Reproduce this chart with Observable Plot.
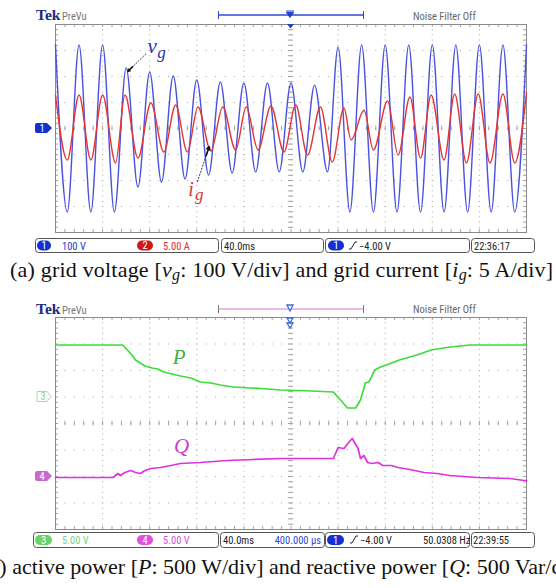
<!DOCTYPE html>
<html><head><meta charset="utf-8">
<script src="https://cdn.jsdelivr.net/npm/d3@7"></script>
<script src="https://cdn.jsdelivr.net/npm/@observablehq/plot@0.6"></script>
<style>
html,body{margin:0;padding:0;background:#fff;}
body{width:556px;height:588px;overflow:hidden;position:relative;}
#p1,#p2,#ov{position:absolute;left:0;}
#p1{top:0;} #p2{top:300px;} #ov{top:0;pointer-events:none;}
.ui{font-family:"Liberation Sans Narrow","Roboto Condensed","Liberation Sans",sans-serif;font-size:10.5px;}
.cap{font-family:"Liberation Serif","Times New Roman",serif;font-size:22px;}
</style></head><body>
<div id="p1"></div><div id="p2"></div>
<svg id="ov" width="556" height="588" xmlns="http://www.w3.org/2000/svg">
  <!-- panel (a) header -->
  <text x="36" y="20" font-family="Liberation Serif,serif" font-weight="bold" font-size="15.5" fill="#1c2a86">Tek</text>
  <text x="62" y="20" class="ui" font-size="9" fill="#777">PreVu</text>
  <line x1="218" y1="15" x2="364" y2="15" stroke="#3048d8" stroke-width="1.5"/>
  <line x1="218.5" y1="11" x2="218.5" y2="19" stroke="#3048d8"/>
  <line x1="363.5" y1="11" x2="363.5" y2="19" stroke="#3048d8"/>
  <path d="M286,11 h8 M286.5,12.5 h7 l-3.5,5 z" fill="#2040d0" stroke="#2040d0" stroke-width="1"/>
  <path d="M287,24 h7 l-3.5,4.5 z" fill="#2040d0"/>
  <text x="413" y="20" class="ui" font-size="9" fill="#666">Noise Filter Off</text>
  <!-- ch1 marker -->
  <path d="M37,123 h10 l5,5 l-5,5 h-10 a2,2 0 0 1 -2,-2 v-6 a2,2 0 0 1 2,-2 z" fill="#1530d0"/>
  <text x="42" y="131.5" class="ui" font-size="9" fill="#fff" text-anchor="middle">1</text>
  <!-- status bar (a) -->
  <g fill="none" stroke="#555" stroke-width="1">
    <rect x="35.5" y="238.5" width="183" height="14" rx="3"/>
    <rect x="221.5" y="238.5" width="102" height="14" rx="3"/>
    <rect x="325.5" y="238.5" width="144" height="14" rx="3"/>
    <rect x="471.5" y="238.5" width="63" height="14" rx="3"/>
  </g>
  <rect x="37" y="240.5" width="14" height="10" rx="5" fill="#1530d0"/>
  <text x="44" y="249" class="ui" font-size="9" fill="#fff" text-anchor="middle">1</text>
  <text x="62" y="249.5" class="ui" fill="#2040d0">100 V</text>
  <rect x="137" y="240.5" width="16" height="10" rx="5" fill="#d01818"/>
  <text x="145" y="249" class="ui" font-size="9" fill="#fff" text-anchor="middle">2</text>
  <text x="163" y="249.5" class="ui" fill="#e03030">5.00 A</text>
  <text x="224" y="249.5" class="ui" fill="#222">40.0ms</text>
  <rect x="328" y="240.5" width="16" height="10" rx="5" fill="#1530d0"/>
  <text x="336" y="249" class="ui" font-size="9" fill="#fff" text-anchor="middle">1</text>
  <path d="M349,249 h2 l4,-7 h2" fill="none" stroke="#222" stroke-width="1"/>
  <text x="359" y="249.5" class="ui" fill="#222">−4.00 V</text>
  <text x="474" y="249.5" class="ui" fill="#222">22:36:17</text>
  <!-- caption (a) -->
  <text x="10" y="277" class="cap" fill="#111" textLength="543" lengthAdjust="spacing">(a) grid voltage [<tspan font-style="italic">v</tspan><tspan font-style="italic" font-size="16" dy="3">g</tspan><tspan dy="-3">: 100 V/div] and grid current [</tspan><tspan font-style="italic">i</tspan><tspan font-style="italic" font-size="16" dy="3">g</tspan><tspan dy="-3">: 5 A/div]</tspan></text>

  <!-- panel (b) header -->
  <text x="36" y="314" font-family="Liberation Serif,serif" font-weight="bold" font-size="15.5" fill="#1c2a86">Tek</text>
  <text x="62" y="314" class="ui" font-size="9" fill="#777">PreVu</text>
  <line x1="218" y1="309" x2="364" y2="309" stroke="#e8a0e0" stroke-width="1.5"/>
  <line x1="218.5" y1="305" x2="218.5" y2="313" stroke="#777"/>
  <line x1="363.5" y1="305" x2="363.5" y2="313" stroke="#777"/>
  <path d="M287,305 h6 l-3,6 z" fill="#fff" stroke="#3a6ad8" stroke-width="1.3"/>
  <path d="M287,318 h6 l-3,5 z M287,323 h6 l-3,5 z" fill="#fff" stroke="#3a6ad8" stroke-width="1.3"/>
  <text x="413" y="313" class="ui" font-size="9" fill="#666">Noise Filter Off</text>
  <!-- ch3 / ch4 markers -->
  <path d="M37,391.5 h10 l4,5 l-4,5 h-10 z" fill="#fff" stroke="#9be39b"/>
  <text x="43" y="400" class="ui" font-size="9" fill="#7fd67f" text-anchor="middle">3</text>
  <path d="M37,471 h10 l5,5 l-5,5 h-10 a2,2 0 0 1 -2,-2 v-6 a2,2 0 0 1 2,-2 z" fill="#c86ac8"/>
  <text x="42" y="479.5" class="ui" font-size="9" fill="#fff" text-anchor="middle">4</text>
  <!-- status bar (b) -->
  <g fill="none" stroke="#555" stroke-width="1">
    <rect x="33.5" y="532.5" width="185" height="15" rx="3"/>
    <rect x="220.5" y="532.5" width="104" height="15" rx="3"/>
    <rect x="325.5" y="532.5" width="144" height="15" rx="3"/>
    <rect x="471.5" y="532.5" width="63" height="15" rx="3"/>
  </g>
  <rect x="35" y="535" width="17" height="10" rx="5" fill="#66d466"/>
  <text x="43.5" y="543.5" class="ui" font-size="9" fill="#fff" text-anchor="middle">3</text>
  <text x="62" y="544" class="ui" fill="#7ad27a">5.00 V</text>
  <rect x="137" y="535" width="16" height="10" rx="5" fill="#e050e0"/>
  <text x="145" y="543.5" class="ui" font-size="9" fill="#fff" text-anchor="middle">4</text>
  <text x="163" y="544" class="ui" fill="#d850d8">5.00 V</text>
  <text x="223" y="544" class="ui" fill="#222">40.0ms</text>
  <text x="321" y="544" class="ui" fill="#2a4ad0" text-anchor="end">400.000 µs</text>
  <rect x="327" y="535" width="17" height="10" rx="5" fill="#1530d0"/>
  <text x="335.5" y="543.5" class="ui" font-size="9" fill="#fff" text-anchor="middle">1</text>
  <path d="M350,543 h2 l4,-7 h2" fill="none" stroke="#222" stroke-width="1"/>
  <text x="360" y="544" class="ui" fill="#222">−4.00 V</text>
  <text x="423" y="544" class="ui" fill="#222">50.0308 Hz</text>
  <text x="473" y="544" class="ui" fill="#222">22:39:55</text>
  <!-- caption (b) -->
  <text x="-19" y="574" class="cap" fill="#111">(b) active power [<tspan font-style="italic">P</tspan>: 500 W/div] and reactive power [<tspan font-style="italic">Q</tspan>: 500 Var/div]</text>
</svg>
<script>
// ---------- (a) grid voltage: extrema, time in ms, voltage in V
const vgTime = [0,10,20,30,40,50,60,70,80,90,100,110,120,130,140,150,160,170,180,190,200,210,220,231,240,250,260,270,280,290,300,310,320,330,340,350,360,370,380,390,400];
const vgVolt = [321,-321,321,-321,321,-321,233,-225,217,-206,202,-194,187,-179,179,-171,175,-167,175,-167,175,-167,167,-167,313,-321,321,-321,321,-321,321,-321,321,-321,321,-321,321,-321,321,-321,321];
// ---------- (a) grid current: extrema, time in ms, current in A
const igTime = [0,10,20,30,40,51,59,70,81,92,102,112,121,132,142,153,162,172,183,194,204,214,225,235,245,251,262,270,282,291,301,310,319,330,339,349,359,369,380,390,400];
const igAmp = [6.44,-6.06,6.44,-6.06,6.44,-6.63,6.44,-5.67,4.90,-4.52,4.52,-4.52,4.13,-4.33,4.13,-4.13,4.13,-4.13,4.33,-4.52,4.52,-5.10,4.13,-6.44,3.94,-2.21,3.5,-4.13,5.3,-5.10,6.06,-5.67,6.44,-6.06,6.63,-6.63,6.63,-6.63,6.63,-6.63,6.83];
// ---------- (b) active power: time in ms, W
const pTime = [0,57,61,65,68,72,76,82,87,92,99,106,115,123,132,140,151,166,180,191,217,236,242,248,255,259,262,263,266,268,271,276,281,292,307,319,335,352,400];
const pWatt = [981,981,887,792,698,642,585,547,528,472,434,396,358,283,264,226,189,170,151,132,113,94,-57,-208,-208,-57,170,264,283,358,509,566,604,698,792,887,943,981,981];
// ---------- (b) reactive power: time in ms, Var
const qTime = [0,49,53,55,59,64,68,72,76,81,89,98,106,123,146,168,191,236,240,245,249,252,257,259,262,265,269,274,278,285,291,301,313,324,335,358,386,398,400];
const qVar = [-19,-19,57,19,75,113,75,57,113,151,170,208,245,264,302,321,340,340,547,528,642,717,528,340,396,264,245,264,208,208,170,132,75,57,19,-19,-38,-75,-75];

// scope scale settings (per division)
const voltPerDiv = 100, ampPerDiv = 5, wattPerDiv = 500, varPerDiv = 500;
const msPerDiv = 40;

// annotations (label text, time ms, divisions)
const labelsA = [
  {txt:"v", t:82, d:2.92, size:21, color:"#2830b0"},
  {txt:"g", t:90, d:2.72, size:17, color:"#2830b0"},
  {txt:"i", t:115, d:-2.58, size:20, color:"#d83838"},
  {txt:"g", t:122, d:-2.76, size:17, color:"#d83838"}
];
const arrowsA = [
  {t1:77, d1:2.88, t2:61.5, d2:2.2},
  {t1:120.5, d1:-2.05, t2:130.5, d2:-0.7}
];
const labelsB = [
  {txt:"P", t:105, d:2.26, color:"#44b044"},
  {txt:"Q", t:107, d:-1.1, color:"#cc3ccc"}
];

const vgData = vgTime.map((t,i)=>({t, v:vgVolt[i]}));
const igData = igTime.map((t,i)=>({t, a:igAmp[i]}));
const pData = pTime.map((t,i)=>({t, w:pWatt[i]}));
const qData = qTime.map((t,i)=>({t, q:qVar[i]}));

function graticule(divPx){
  const gc = "#a4a4a4";
  const span = msPerDiv*10;
  const subX = d3.range(0, span+0.001, msPerDiv/5);
  const subY = d3.range(-4, 4.001, 0.2);
  const tx = 3/divPx;
  const ty = 3*span/471;
  const vx = d3.range(1,10).map(i=>i*msPerDiv);
  return [
    Plot.ruleX(vx, {stroke:gc, strokeDasharray:`1,${divPx/5-1}`}),
    Plot.ruleY([-3,-2,-1,0,1,2,3], {stroke:gc, strokeDasharray:"1,8.42"}),
    Plot.ruleX(subX, {x:d=>d, y1:-0.09, y2:0.09, stroke:gc}),
    Plot.ruleY(subY, {y:d=>d, x1:span/2-2.2, x2:span/2+2.2, stroke:gc}),
    Plot.ruleX(subX, {x:d=>d, y1:4, y2:4-tx, stroke:gc}),
    Plot.ruleX(subX, {x:d=>d, y1:-4, y2:-4+tx, stroke:gc}),
    Plot.ruleY(subY, {y:d=>d, x1:0, x2:ty, stroke:gc}),
    Plot.ruleY(subY, {y:d=>d, x1:span-ty, x2:span, stroke:gc}),
    Plot.frame({stroke:"#8a8a8a"})
  ];
}
const base = (mt, mb) => ({
  width:556, height:240, marginLeft:55, marginRight:30, marginTop:mt, marginBottom:mb,
  x:{domain:[0,400], axis:null}, y:{domain:[-4,4], axis:null},
  style:{background:"transparent", overflow:"visible"}
});

const p1 = Plot.plot({
  ...base(24, 8),
  marks:[
    ...graticule(26),
    Plot.line(vgData, {x:"t", y:d=>d.v/voltPerDiv, curve:"monotone-x", stroke:"#4a52e0", strokeWidth:1.4}),
    Plot.line(igData, {x:"t", y:d=>d.a/ampPerDiv, curve:"monotone-x", stroke:"#e43434", strokeWidth:1.4}),
    Plot.link(arrowsA, {x1:"t1", y1:"d1", x2:"t2", y2:"d2", stroke:"#222", strokeWidth:0.9, strokeDasharray:"2,1.2"}),
    Plot.arrow(arrowsA, {x1:d=>d.t2+(d.t1-d.t2)*0.25, y1:d=>d.d2+(d.d1-d.d2)*0.25, x2:"t2", y2:"d2", stroke:"#111", strokeWidth:1.6, headLength:6}),
    Plot.text(labelsA, {x:"t", y:"d", text:"txt", fill:"color", fontSize:d=>d.size, fontFamily:"Liberation Serif", fontStyle:"italic", lineAnchor:"bottom"})
  ]
});
document.getElementById("p1").appendChild(p1);

const p2 = Plot.plot({
  ...base(17, 11),
  marks:[
    ...graticule(26.5),
    Plot.line(pData, {x:"t", y:d=>1 + d.w/wattPerDiv, stroke:"#3ddc3d", strokeWidth:1.7}),
    Plot.line(qData, {x:"t", y:d=>-2 + d.q/varPerDiv, stroke:"#e030e0", strokeWidth:1.7}),
    Plot.text(labelsB, {x:"t", y:"d", text:"txt", fill:"color", fontSize:21, fontFamily:"Liberation Serif", fontStyle:"italic", lineAnchor:"bottom"})
  ]
});
document.getElementById("p2").appendChild(p2);
</script>
</body></html>
